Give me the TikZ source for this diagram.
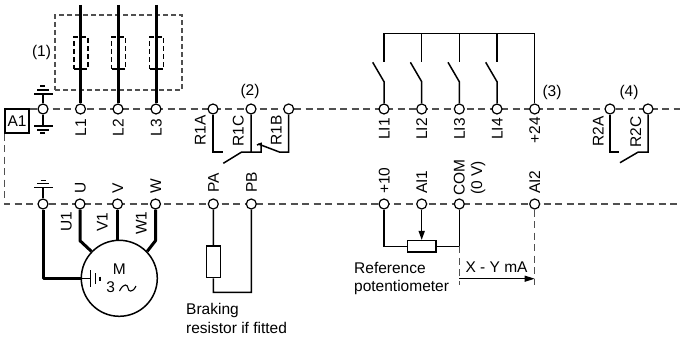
\documentclass[tikz,border=0pt]{standalone}
\usepackage{fontspec}
\setmainfont{Liberation Sans}
\usetikzlibrary{arrows.meta}

\definecolor{busgrey}{HTML}{505050}
\tikzset{
	term/.style={draw, circle, fill=white, line width=1.2pt, minimum size=10pt, inner sep=0pt},
	bus/.style={busgrey, line width=1.2pt, dash pattern=on 7pt off 4.5pt},
	boxdash/.style={line width=1.1pt, dash pattern=on 5pt off 3pt},
	thickwire/.style={line width=3pt},
	wire/.style={line width=1.5pt},
	thinwire/.style={line width=1.1pt},
	txt/.style={inner sep=0pt, font=\fontsize{15.5}{20}\selectfont},
	up/.style={txt, rotate=90, text height=11pt, text depth=0pt},
	upend/.style={up, anchor=east},
	upstart/.style={up, anchor=west},
	boxpart/.style={draw, line width=1.4pt, fill=white, inner sep=0pt}
}

\begin{document}
\begin{tikzpicture}[x=1pt, y=-1pt]
	\useasboundingbox (0, 0) rectangle (680, 337);

	\node [draw, txt, line width=1.1pt, minimum width=24pt, minimum height=24pt] (A1) at (17, 121) {A1};
	\coordinate (topbusend) at (680, 109);
	\coordinate (lowbusend) at (680, 204);
	\draw [bus] (A1.east |- topbusend) -- (topbusend);
	\draw [bus] (A1.south west) |- (lowbusend);

	% mains fuses
	\node [draw, boxdash, busgrey, minimum width=127pt, minimum height=75pt] (fusebox) at (118.5, 52.5) {};
	\node [txt] (note1) at (41.5, 52.5) {(1)};

	\coordinate (L1top) at (80.5, 5);
	\coordinate (L2top) at (118, 5);
	\coordinate (L3top) at (156, 5);
	\node [term] (L1) at (80.5, 109) {};
	\node [term] (L2) at (118, 109) {};
	\node [term] (L3) at (156, 109) {};
	\draw [thickwire] (L1top) -- (L1);
	\draw [thickwire] (L2top) -- (L2);
	\draw [thickwire] (L3top) -- (L3);
	\node [draw, boxdash, minimum width=14pt, minimum height=32pt] (fuse1) at (81, 53) {};
	\node [draw, boxdash, minimum width=14pt, minimum height=32pt] (fuse2) at (118.5, 53) {};
	\node [draw, boxdash, minimum width=14pt, minimum height=32pt] (fuse3) at (156.5, 53) {};
	\node [upend] (L1txt) at (80.5, 119) {L1};
	\node [upend] (L2txt) at (118, 119) {L2};
	\node [upend] (L3txt) at (156, 119) {L3};

	% earth terminals
	\node [term] (PE1) at (43, 109) {};
	\coordinate (PE1up) at (43, 94);
	\coordinate (PE1down) at (43, 126);
	\draw [wire] (PE1up) -- (PE1);
	\draw [wire] (PE1) -- (PE1down);
	\draw [wire] (34, 94) -- (53, 94);
	\draw [wire] (37, 90) -- (49, 90);
	\draw [wire] (40, 86) -- (45, 86);
	\draw [wire] (34, 126) -- (53, 126);
	\draw [wire] (37, 130) -- (49, 130);
	\draw [wire] (40, 133) -- (45, 133);

	% relay R1
	\node [term] (R1A) at (213, 109) {};
	\node [term] (R1C) at (251, 109) {};
	\node [term] (R1B) at (288.7, 109) {};
	\node [txt] (note2) at (250, 91) {(2)};
	\node [upend] (R1Atxt) at (200, 115) {R1A};
	\node [upend] (R1Ctxt) at (238, 115) {R1C};
	\node [upend] (R1Btxt) at (276, 115) {R1B};
	\coordinate (R1Aend) at (222.7, 152);
	\coordinate (R1Cfoot) at (251, 152);
	\coordinate (R1Bend) at (258.3, 144);
	\draw [wire] (R1A) |- (R1Aend);
	\draw [wire] (R1C) -- (R1Cfoot) -- (241.7, 152) -- (223.3, 163.3);
	\draw [wire] (R1Cfoot) -- (261, 152) -- (261, 143.5) -- (257, 145);
	\draw [wire] (R1B) |- (279.3, 152) -- (R1Bend);

	% logic inputs
	\node [term] (LI1) at (384, 109) {};
	\node [term] (LI2) at (421.7, 109) {};
	\node [term] (LI3) at (459.3, 109) {};
	\node [term] (LI4) at (497, 109) {};
	\node [term] (P24) at (534.7, 109) {};
	\node [txt] (note3) at (552, 92) {(3)};
	\node [upend] (LI1txt) at (384, 118) {LI1};
	\node [upend] (LI2txt) at (421.7, 118) {LI2};
	\node [upend] (LI3txt) at (459.3, 118) {LI3};
	\node [upend] (LI4txt) at (497, 118) {LI4};
	\node [upend] (P24txt) at (534.7, 117) {+24};
	\coordinate (rail1) at (384, 33.3);
	\coordinate (rail2) at (421.7, 33.3);
	\coordinate (rail3) at (459.3, 33.3);
	\coordinate (rail4) at (497, 33.3);
	\draw [wire] (384, 61.7) -- (rail1) -- (rail2) -- (rail3) -- (rail4) -- (534.7, 33.3) -- (P24);
	\draw [wire] (rail2) -- (421.7, 61.7);
	\draw [wire] (rail3) -- (459.3, 61.7);
	\draw [wire] (rail4) -- (497, 61.7);
	\draw [wire] (LI1) -- (384, 81.7) -- (372.7, 62.3);
	\draw [wire] (LI2) -- (421.7, 81.7) -- (410.4, 62.3);
	\draw [wire] (LI3) -- (459.3, 81.7) -- (448, 62.3);
	\draw [wire] (LI4) -- (497, 81.7) -- (485.7, 62.3);

	% relay R2
	\node [term] (R2A) at (610, 109) {};
	\node [term] (R2C) at (648, 109) {};
	\node [txt] (note4) at (629, 92) {(4)};
	\node [upend] (R2Atxt) at (598, 116) {R2A};
	\node [upend] (R2Ctxt) at (635.7, 116) {R2C};
	\draw [wire] (R2A) |- (619.4, 152);
	\draw [wire] (R2C) |- (638.3, 152) -- (620, 162.7);

	% motor
	\node [term] (PE2) at (43, 204) {};
	\node [term] (U) at (80, 204) {};
	\node [term] (V) at (117.5, 204) {};
	\node [term] (W) at (155.5, 204) {};
	\node [upstart] (Utxt) at (80, 194) {U};
	\node [upstart] (Vtxt) at (117.5, 194) {V};
	\node [upstart] (Wtxt) at (155.5, 194) {W};
	\node [upstart] (U1txt) at (66, 232) {U1};
	\node [upstart] (V1txt) at (102, 232) {V1};
	\node [upstart] (W1txt) at (141, 235) {W1};
	\coordinate (PE2up) at (43, 187.3);
	\draw [wire] (PE2up) -- (PE2);
	\draw [wire] (34, 187.3) -- (52.7, 187.3);
	\draw [wire] (37, 183.5) -- (49, 183.5);
	\draw [wire] (40.5, 180.5) -- (45.5, 180.5);
	\node [draw, circle, line width=1.5pt, minimum size=76pt, inner sep=0pt] (motor) at (119.3, 278.3) {};
	\draw [thickwire, line join=round] (U) -- (80, 240.7) -- (motor.136);
	\draw [thickwire] (V) -- (motor.north -| V);
	\draw [thickwire, line join=round] (W) -- (155.5, 240.7) -- (motor.44);
	\draw [thickwire, line join=round] (PE2) |- (motor.west);
	\draw [wire] (motor.west) -- (90.7, 278.3);
	\draw [wire] (90.7, 270) -- (90.7, 287);
	\draw [wire] (95.7, 273) -- (95.7, 284);
	\draw [wire] (100, 276.7) -- (100, 281);
	\node [txt] (Mtxt) at (119.3, 268.7) {M};
	\node [txt] (threetxt) at (110.7, 287.3) {3};
	\draw [thinwire] (119.5, 291) .. controls (124, 282) and (128, 285) .. (128, 288) .. controls (128, 291) and (132, 294) .. (136, 286);

	% braking resistor
	\node [term] (PA) at (213.3, 204) {};
	\node [term] (PB) at (251.3, 204) {};
	\node [upstart] (PAtxt) at (213.3, 193) {PA};
	\node [upstart] (PBtxt) at (251.3, 193) {PB};
	\node [boxpart, minimum width=14.4pt, minimum height=31.7pt] (Rbrake) at (213.5, 261.8) {};
	\coordinate (Rfoot) at (213.3, 292.3);
	\draw [wire] (PA) -- (Rbrake);
	\draw [wire] (Rbrake) -- (Rfoot) -| (PB);
	\node [txt, anchor=west] (braketxt) at (186, 310) {Braking};
	\node [txt, anchor=west] (braketxtb) at (186, 328) {resistor if fitted};

	% analogue inputs
	\node [term] (P10) at (384, 204) {};
	\node [term] (AI1) at (421.7, 204) {};
	\node [term] (COM) at (459.3, 204) {};
	\node [term] (AI2) at (534.7, 204) {};
	\node [upstart] (P10txt) at (384, 194) {+10};
	\node [upstart] (AI1txt) at (421.7, 194) {AI1};
	\node [upstart] (COMtxt) at (459, 196) {COM};
	\node [upstart] (COMvtxt) at (476.5, 195) {(0 V)};
	\node [upstart] (AI2txt) at (534.7, 194) {AI2};
	\node [boxpart, minimum width=28.7pt, minimum height=11.3pt] (pot) at (421.7, 246.3) {};
	\coordinate (COMfoot) at (459.3, 246.3);
	\draw [wire] (P10) |- (pot);
	\draw [wire] (pot) -- (COMfoot) -- (COM);
	\draw [wire, -{Triangle[length=9pt, width=6pt]}] (AI1) -- (pot);
	\draw [bus] (COMfoot) -- (459.3, 285);
	\draw [bus] (AI2) -- (534.7, 285);
	\draw [thinwire, -{Triangle[length=10pt, width=6pt]}] (459.3, 278.7) -- (534.7, 278.7);
	\node [txt, anchor=west] (reftxt) at (354, 267.5) {Reference};
	\node [txt, anchor=west] (reftxtb) at (354, 287.5) {potentiometer};
	\node [txt] (mAtxt) at (496.5, 267.5) {X - Y mA};
\end{tikzpicture}
\end{document}
